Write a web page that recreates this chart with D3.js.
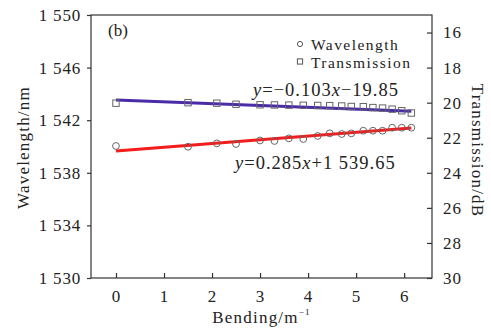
<!DOCTYPE html>
<html>
<head>
<meta charset="utf-8">
<script src="https://cdn.jsdelivr.net/npm/d3@7"></script>
<style>
  html, body { margin: 0; padding: 0; background: #fff; }
  svg { display: block; }
  svg text { font-family: "Liberation Serif", "Times New Roman", Times, serif; }
</style>
</head>
<body>
<div id="chart"></div>
<script>
// bending curvature (m^-1)
const bending = [0, 1.5, 2.1, 2.5, 3.0, 3.3, 3.6, 3.9, 4.2, 4.45, 4.7, 4.9, 5.15, 5.35, 5.55, 5.75, 5.95, 6.15];
// wavelength (nm)
const wavelength = [1540.04, 1539.98, 1540.24, 1540.19, 1540.46, 1540.42, 1540.62, 1540.57, 1540.80, 1541.00,
  1540.95, 1541.00, 1541.20, 1541.20, 1541.20, 1541.43, 1541.43, 1541.43];
// transmission (dB, shown as magnitude on the reversed right axis)
const transmission = [20.03, 20.00, 20.03, 20.09, 20.12, 20.13, 20.14, 20.15, 20.16, 20.17, 20.19, 20.22,
  20.23, 20.28, 20.31, 20.37, 20.46, 20.59];

// linear fits printed on the chart
const wavelengthFit = { slope: 0.285, intercept: 1539.65 };
const transmissionFit = { slope: -0.103, intercept: -19.85 };
const fitRange = [0, 6.15];

const xTicks = [0, 1, 2, 3, 4, 5, 6];
const leftTicks = [1530, 1534, 1538, 1542, 1546, 1550];
const rightTicks = [16, 18, 20, 22, 24, 26, 28, 30];

const margin = { top: 15, right: 59, bottom: 51, left: 91 };
const width = 491 - margin.left - margin.right;
const height = 329 - margin.top - margin.bottom;

const svg = d3.select("#chart")
  .append("svg")
  .attr("width", 491)
  .attr("height", 329)
  .append("g")
  .attr("transform", "translate(" + margin.left + "," + margin.top + ")");

const x = d3.scaleLinear().domain([-0.52, 6.58]).range([0, width]);
const yL = d3.scaleLinear().domain([1530, 1550]).range([height, 0]);
const yR = d3.scaleLinear().domain([30, 15]).range([height, 0]);

const axisColor = "#333";
const fmtSpace = d => d3.format(",")(d).replace(",", " ");

// frame
svg.append("rect")
  .attr("width", width)
  .attr("height", height)
  .attr("fill", "none")
  .attr("stroke", axisColor)
  .attr("stroke-width", 1.2);

function styleAxis(g, size, spacing) {
  g.attr("font-family", null);
  g.select(".domain").remove();
  g.selectAll("line").attr("stroke", axisColor).attr("stroke-width", 1.2);
  g.selectAll("text")
    .attr("fill", "#222")
    .attr("font-size", size)
    .attr("letter-spacing", spacing);
}

// X axis (ticks inward)
const xAxis = svg.append("g")
  .attr("transform", "translate(0," + height + ")")
  .call(d3.axisBottom(x).tickValues(xTicks).tickSize(-5).tickPadding(12));
styleAxis(xAxis, 17, 1);

// left axis (ticks outward)
const yAxisL = svg.append("g")
  .call(d3.axisLeft(yL).tickValues(leftTicks).tickFormat(fmtSpace).tickSize(4).tickPadding(6));
styleAxis(yAxisL, 17, 0.8);

// right axis (ticks inward)
const yAxisR = svg.append("g")
  .attr("transform", "translate(" + width + ",0)")
  .call(d3.axisRight(yR).tickValues(rightTicks).tickSize(-5).tickPadding(11));
styleAxis(yAxisR, 17, 1);

// fit lines
const wlLine = d3.line()
  .x(d => x(d))
  .y(d => yL(wavelengthFit.slope * d + wavelengthFit.intercept));
const trLine = d3.line()
  .x(d => x(d))
  .y(d => yR(-(transmissionFit.slope * d + transmissionFit.intercept)));

svg.append("path")
  .attr("d", trLine(fitRange))
  .attr("fill", "none")
  .attr("stroke", "#4a2ca8")
  .attr("stroke-width", 3);

svg.append("path")
  .attr("d", wlLine(fitRange))
  .attr("fill", "none")
  .attr("stroke", "#f41c1c")
  .attr("stroke-width", 3);

// markers
const pts = bending.map((b, i) => ({ b, w: wavelength[i], t: transmission[i] }));

svg.selectAll(".sq")
  .data(pts)
  .join("rect")
  .attr("class", "sq")
  .attr("x", d => x(d.b) - 3.2)
  .attr("y", d => yR(d.t) - 3.2)
  .attr("width", 6.4)
  .attr("height", 6.4)
  .attr("fill", "none")
  .attr("stroke", "#666")
  .attr("stroke-width", 1);

svg.selectAll(".ci")
  .data(pts)
  .join("circle")
  .attr("class", "ci")
  .attr("cx", d => x(d.b))
  .attr("cy", d => yL(d.w))
  .attr("r", 3.4)
  .attr("fill", "none")
  .attr("stroke", "#666")
  .attr("stroke-width", 1);

// panel label
svg.append("text")
  .attr("x", 17)
  .attr("y", 21)
  .attr("font-size", 17)
  .attr("fill", "#222")
  .text("(b)");

// legend
const legend = svg.append("g").attr("transform", "translate(209,0)");
legend.append("circle")
  .attr("cx", 0).attr("cy", 29).attr("r", 2.6)
  .attr("fill", "none").attr("stroke", "#555");
legend.append("rect")
  .attr("x", -2.6).attr("y", 43.9).attr("width", 5.2).attr("height", 5.2)
  .attr("fill", "none").attr("stroke", "#555");
legend.append("text")
  .attr("x", 11).attr("y", 34.5)
  .attr("font-size", 15.5).attr("letter-spacing", 1.45).attr("fill", "#222")
  .text("Wavelength");
legend.append("text")
  .attr("x", 11).attr("y", 52.5)
  .attr("font-size", 15.5).attr("letter-spacing", 1.45).attr("fill", "#222")
  .text("Transmission");

// fit equations
function equation(xPos, yPos, parts) {
  const t = svg.append("text")
    .attr("x", xPos).attr("y", yPos)
    .attr("font-size", 18.5).attr("letter-spacing", 1).attr("fill", "#222");
  parts.forEach(p => {
    t.append("tspan").attr("font-style", p[1] ? "italic" : null).text(p[0]);
  });
}
equation(162, 81, [["y", true], ["=\u22120.103", false], ["x", true], ["\u221219.85", false]]);
equation(144, 154, [["y", true], ["=0.285", false], ["x", true], ["+1 539.65", false]]);

// axis titles
const xt = svg.append("text")
  .attr("x", width / 2)
  .attr("y", height + 45)
  .attr("text-anchor", "middle")
  .attr("font-size", 17)
  .attr("letter-spacing", 1.2)
  .attr("fill", "#222");
xt.append("tspan").text("Bending/m");
xt.append("tspan").attr("font-size", 9).attr("dy", -8).text("\u22121");

svg.append("text")
  .attr("transform", "translate(" + (-62) + "," + (height / 2 + 1) + ") rotate(-90)")
  .attr("text-anchor", "middle")
  .attr("font-size", 17)
  .attr("letter-spacing", 1.2)
  .attr("fill", "#222")
  .text("Wavelength/nm");

svg.append("text")
  .attr("transform", "translate(" + (width + 40) + "," + (height / 2 + 4) + ") rotate(90)")
  .attr("text-anchor", "middle")
  .attr("font-size", 17)
  .attr("letter-spacing", 1.2)
  .attr("fill", "#222")
  .text("Transmission/dB");
</script>
</body>
</html>
